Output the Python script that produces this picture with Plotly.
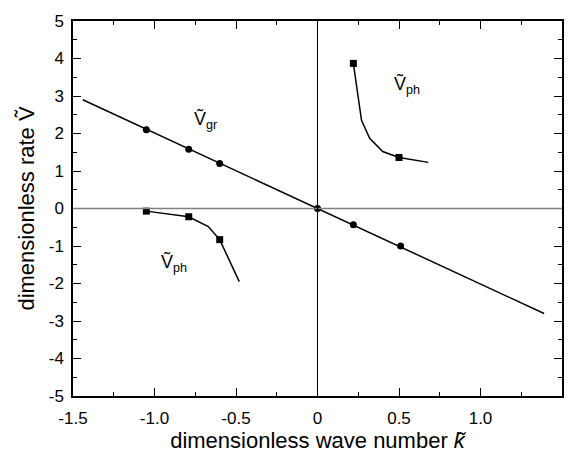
import plotly.graph_objects as go

# group velocity line (ends) and marked points
vgr_line_k = [-1.44, 1.39]
vgr_line_v = [2.9, -2.8]
vgr_pts_k = [-1.05, -0.79, -0.6, 0.0, 0.22, 0.51]
vgr_pts_v = [2.1, 1.58, 1.2, 0.0, -0.43, -1.0]

# phase velocity, negative branch
vph_neg_k = [-1.05, -0.79, -0.67, -0.6, -0.48]
vph_neg_v = [-0.07, -0.22, -0.48, -0.83, -1.95]
vph_neg_pts_k = [-1.05, -0.79, -0.6]
vph_neg_pts_v = [-0.07, -0.22, -0.83]

# phase velocity, positive branch
vph_pos_k = [0.22, 0.27, 0.32, 0.4, 0.5, 0.68]
vph_pos_v = [3.87, 2.35, 1.87, 1.52, 1.36, 1.23]
vph_pos_pts_k = [0.22, 0.5]
vph_pos_pts_v = [3.87, 1.36]

x_ticks = [-1.5, -1.0, -0.5, 0, 0.5, 1.0, 1.5]
x_labels = ["-1.5", "-1.0", "-0.5", "0", "0.5", "1.0", "1.5"]
y_ticks = [-5, -4, -3, -2, -1, 0, 1, 2, 3, 4, 5]
y_labels = ["-5", "-4", "-3", "-2", "-1", "0", "1", "2", "3", "4", "5"]

FONT = "Liberation Sans, Arial"

fig = go.Figure()
fig.add_hline(y=0, line=dict(color="#808080", width=1.5))
fig.add_vline(x=0, line=dict(color="black", width=1))

fig.add_trace(go.Scatter(x=vgr_line_k, y=vgr_line_v, mode="lines",
                         line=dict(color="black", width=1.5)))
fig.add_trace(go.Scatter(x=vgr_pts_k, y=vgr_pts_v, mode="markers",
                         marker=dict(color="black", size=7, symbol="circle")))
fig.add_trace(go.Scatter(x=vph_neg_k, y=vph_neg_v, mode="lines",
                         line=dict(color="black", width=1.5)))
fig.add_trace(go.Scatter(x=vph_neg_pts_k, y=vph_neg_pts_v, mode="markers",
                         marker=dict(color="black", size=7, symbol="square")))
fig.add_trace(go.Scatter(x=vph_pos_k, y=vph_pos_v, mode="lines",
                         line=dict(color="black", width=1.5)))
fig.add_trace(go.Scatter(x=vph_pos_pts_k, y=vph_pos_pts_v, mode="markers",
                         marker=dict(color="black", size=7, symbol="square")))

lab_font = dict(family=FONT, size=18, color="black")
def vlabel(x, y, sub):
    fig.add_annotation(x=x, y=y, text="V\u0303<sub>" + sub + "</sub>",
                       showarrow=False, font=lab_font, xanchor="left", yanchor="middle")

vlabel(-0.77, 2.35, "gr")
vlabel(-0.97, -1.45, "ph")
vlabel(0.46, 3.3, "ph")

axis_common = dict(showline=True, linecolor="black", linewidth=1.5, mirror="allticks",
                   ticks="inside", ticklen=8, tickcolor="black", tickwidth=1,
                   showgrid=False, zeroline=False, automargin=False,
                   tickfont=dict(family=FONT, size=17, color="black"))

fig.update_xaxes(range=[-1.5, 1.5], tickvals=x_ticks, ticktext=x_labels,
                 ticklabelstandoff=6,
                 minor=dict(ticks="inside", ticklen=4, tickcolor="black", dtick=0.25, tick0=0),
                 title=dict(text="dimensionless wave number <i>k\u0303</i>", standoff=4,
                            font=dict(family=FONT, size=22, color="black")),
                 **axis_common)
fig.update_yaxes(range=[-5, 5], tickvals=y_ticks, ticktext=y_labels,
                 ticklabelstandoff=4,
                 minor=dict(ticks="inside", ticklen=4, tickcolor="black", dtick=0.5, tick0=0),
                 title=dict(text="dimensionless rate V\u0303", standoff=8,
                            font=dict(family=FONT, size=22, color="black")),
                 **axis_common)

fig.update_layout(width=568, height=460, showlegend=False,
                  margin=dict(l=73, r=6, t=21, b=64),
                  plot_bgcolor="white", paper_bgcolor="white")

fig.write_html("out.html")
